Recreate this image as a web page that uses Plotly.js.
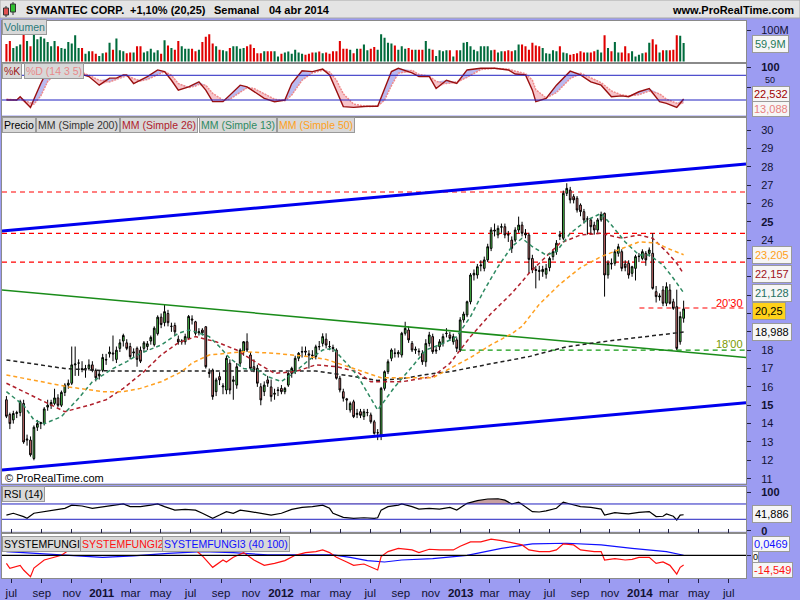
<!DOCTYPE html>
<html><head><meta charset="utf-8">
<script src="https://cdn.plot.ly/plotly-3.0.1.min.js"></script>
<style>html,body{margin:0;padding:0;background:#9c9cf2;}#chart{width:800px;height:600px;}</style>
</head><body><div id="chart"></div>
<script>
// ---------- DATA (weekly, first week 2010-06-21) ----------
const firstWeek = '2010-06-21';
const open = [
15.3,14.5,14.2,14.55,14.6,15.1,13.1,13.1,12.1,13.8,
14.0,14.0,14.9,15.0,15.1,15.4,15.0,15.7,16.1,16.2,
17.2,17.3,17.0,17.0,17.0,17.2,16.9,16.6,16.9,17.5,
17.8,17.85,17.5,18.1,18.5,18.4,18.2,17.85,18.1,18.0,
18.1,18.2,18.5,18.3,18.9,19.8,19.5,20.0,19.3,19.35,
18.6,18.45,18.46,18.65,19.7,19.55,18.95,19.1,19.28,16.8,
16.92,15.74,16.56,16.0,15.83,17.29,16.3,16.1,17.29,17.92,
18.46,17.74,17.1,17.01,16.01,15.74,16.38,16.0,15.6,15.8,
15.92,15.74,16.1,16.74,16.83,17.56,17.9,17.95,17.8,17.74,
17.65,18.2,18.37,18.6,18.2,18.15,18.01,16.47,15.74,15.35,
14.74,15.19,14.5,14.65,14.38,14.6,14.47,14.1,13.5,13.3,
15.92,16.83,17.56,17.85,17.8,17.74,18.92,19.1,18.37,18.0,
17.95,17.83,17.37,18.37,18.74,17.95,18.19,18.37,18.9,18.83,
18.46,18.56,18.01,19.65,19.92,20.64,22.1,22.1,22.6,22.46,
22.92,23.55,24.55,24.28,24.7,24.73,24.3,24.0,24.0,24.55,
24.82,24.37,24.28,23.0,22.4,22.35,22.28,22.14,22.5,23.1,
23.37,24.3,24.1,26.55,26.73,26.37,26.28,25.91,25.55,25.15,
25.1,24.82,24.55,25.1,25.46,22.1,22.74,22.74,23.28,23.37,
22.7,22.74,22.19,22.46,23.1,23.0,23.28,23.28,23.28,21.19,
20.9,21.28,20.56,21.28,20.64,20.37,18.46,19.74];
const high = [
15.5,14.6,14.7,14.7,15.3,15.3,13.4,13.3,13.9,14.2,
14.1,14.9,15.3,15.3,15.9,15.6,15.8,16.2,16.4,18.2,
18.2,17.5,17.4,17.2,17.5,17.4,17.0,16.9,17.8,17.8,
18.2,18.8,18.2,18.6,18.9,18.6,18.4,18.1,18.2,18.2,
18.5,18.5,18.8,19.3,19.9,20.0,20.5,20.2,19.5,19.5,
18.8,18.6,18.9,19.92,19.9,19.6,19.2,19.2,19.3,17.0,
17.0,16.5,16.8,16.2,17.7,17.5,16.6,17.3,18.1,18.5,
18.92,17.9,17.5,17.2,16.2,16.3,16.6,16.4,15.9,16.0,
16.1,16.0,16.8,17.1,17.7,17.9,18.2,18.2,18.0,18.0,
18.3,18.5,18.92,18.92,18.5,18.3,18.1,16.6,15.9,15.4,
15.2,15.3,14.8,14.8,14.8,14.8,14.6,14.2,13.7,16.0,
16.9,17.5,18.1,18.1,18.0,19.0,19.55,19.3,18.5,18.2,
18.1,18.0,18.6,19.0,18.9,18.2,18.6,18.9,19.2,19.0,
18.9,18.7,19.8,20.1,20.7,22.2,22.4,22.7,22.9,23.1,
23.8,24.7,24.9,24.8,24.9,24.9,24.5,24.2,24.7,25.28,
25.0,24.6,24.4,23.2,22.6,22.6,22.6,22.7,23.1,23.5,
24.0,24.5,26.7,27.1,26.9,26.5,26.4,26.0,25.7,25.3,
25.2,25.0,25.2,25.55,25.5,22.9,23.0,23.5,23.8,23.5,
22.9,22.9,22.6,23.2,23.3,23.5,23.4,23.6,24.37,21.5,
21.1,21.5,21.7,21.6,20.8,21.3,20.1,20.7];
const low = [
14.3,13.7,14.0,14.3,14.4,12.9,12.8,12.2,12.0,13.6,
13.7,13.9,14.7,14.8,15.0,14.9,14.9,15.5,15.9,16.1,
16.6,16.6,16.8,16.5,16.9,16.8,16.3,16.4,16.8,17.2,
17.6,17.4,17.3,17.9,18.2,18.0,17.5,17.6,17.1,17.3,
17.9,18.0,18.3,18.2,18.8,19.2,19.3,19.3,19.0,18.8,
18.3,18.3,18.3,18.6,19.4,18.8,18.8,18.8,17.0,16.5,
15.3,15.5,16.1,15.6,15.6,15.6,15.3,15.9,17.1,17.7,
17.9,16.9,16.8,16.0,15.0,15.5,16.0,15.2,15.3,15.5,
15.6,15.6,16.0,16.5,16.7,17.4,17.6,17.7,17.0,17.5,
17.5,18.0,18.2,18.1,18.0,17.9,16.4,15.7,15.2,14.74,
14.6,14.3,14.3,14.3,14.2,14.4,14.0,13.4,13.1,13.1,
15.8,16.7,17.4,17.6,17.6,17.6,18.8,18.4,17.9,17.8,
17.7,17.2,17.1,18.2,17.8,17.8,18.0,18.2,18.7,18.5,
18.3,17.9,17.9,19.5,19.8,20.5,21.8,21.9,22.3,22.3,
22.8,23.4,24.2,24.1,24.4,24.1,23.9,23.3,23.9,24.4,
24.2,24.1,22.2,22.2,21.37,21.8,22.0,21.9,22.3,22.9,
23.2,24.0,24.0,26.4,26.0,26.0,25.5,25.3,24.9,24.3,
24.3,24.3,24.4,25.0,20.92,21.9,22.4,22.6,23.1,22.3,
22.3,21.9,22.0,21.8,22.8,22.9,22.6,23.1,21.3,20.6,
20.7,20.4,20.4,20.5,20.2,18.0,18.3,19.5];
const close = [
14.4,14.0,14.55,14.6,15.2,13.0,13.15,12.3,13.8,14.0,
14.05,14.8,15.0,15.15,15.4,15.0,15.7,16.1,16.2,17.2,
17.25,17.3,16.95,17.0,17.2,16.9,16.5,16.7,17.6,17.47,
17.9,17.8,18.0,18.4,18.8,18.1,17.65,17.9,17.5,17.4,
18.4,18.35,18.7,19.2,19.8,19.4,20.1,19.5,19.3,19.0,
18.45,18.5,18.74,19.84,19.65,18.92,19.0,18.95,17.1,16.74,
15.47,16.38,16.38,16.05,17.56,15.83,16.38,17.1,18.01,18.46,
18.01,17.01,16.92,16.2,15.29,16.1,16.2,15.47,15.65,15.83,
15.74,15.92,16.74,17.01,17.56,17.83,17.92,17.9,17.74,17.7,
18.19,18.19,18.74,18.28,18.19,18.1,16.47,15.83,15.38,15.29,
15.1,14.38,14.56,14.45,14.65,14.6,14.1,13.47,13.5,15.92,
16.83,17.37,18.01,17.83,17.88,18.92,19.19,18.56,18.01,18.05,
17.92,17.37,18.37,18.83,17.92,18.0,18.46,18.74,18.92,18.65,
18.74,18.1,19.65,19.97,20.64,22.1,22.19,22.55,22.64,22.92,
23.64,24.55,24.5,24.64,24.73,24.28,24.28,23.55,24.55,24.82,
24.37,24.28,22.95,22.37,22.35,22.3,22.4,22.46,23.0,23.37,
23.83,24.2,26.55,26.82,26.19,26.19,25.64,25.55,25.1,25.15,
24.73,24.55,25.1,25.4,22.1,22.74,22.7,23.37,23.64,22.46,
22.5,22.1,22.55,23.1,23.12,23.37,22.92,23.46,21.37,20.92,
20.95,20.56,21.46,20.56,20.28,18.1,19.83,20.25];
// volume in millions
const volume = [
57,66,44,49,55,88,66,49,88,72,
80,74,63,49,66,49,44,41,63,58,
85,44,44,25,33,33,25,18,27,29,
61,38,74,36,33,27,29,29,49,49,
29,33,41,29,36,25,69,52,44,38,
66,49,41,41,41,33,38,63,80,88,
58,49,38,36,33,44,49,49,41,44,
49,55,44,27,27,33,33,33,33,16,
25,29,32,25,38,29,25,22,25,29,
29,32,27,29,25,33,33,66,41,41,
38,27,41,41,55,36,41,47,38,88,
77,61,58,52,38,
49,41,44,38,38,38,38,66,41,38,
18,36,33,36,36,16,36,36,61,63,
49,38,33,49,49,49,36,38,29,33,
33,36,33,36,55,55,49,38,61,52,
49,44,27,25,36,33,49,29,27,22,
24,27,33,29,29,29,33,38,29,85,
44,33,63,29,29,49,27,33,16,22,
27,29,61,72,55,29,36,36,36,38,
85,83,59.9];
// moving averages, read at sample weeks
const ma200Wk = [0,17,30,60,90,100,108,115,123,129,140,144,152,163,175,187,195,197];
const ma200 = [17.47,17.0,16.87,16.87,16.87,16.6,16.35,16.45,16.7,16.83,17.2,17.37,17.65,18.19,18.5,18.77,18.92,18.988];
const ma50Wk = [0,7,18,28,34,39,45,51,54,59,69,78,88,93,102,109,124,130,135,141,147,150,152,155,161,167,173,179,184,189,193,197];
const ma50 = [16.65,16.4,16.0,15.74,15.74,15.92,16.28,16.83,17.3,17.74,17.92,17.83,17.65,17.5,16.92,16.5,16.5,17.1,17.6,18.3,18.9,19.3,19.8,20.5,21.6,22.5,23.1,23.55,23.9,23.85,23.5,23.205];
const ma26Wk = [0,12,17,24,29,34,40,45,50,55,61,67,73,78,84,90,96,102,106,115,124,129,135,141,147,150,152,155,161,167,173,179,184,188,192,195,197];
const ma26 = [16.2,15.1,14.65,15.0,15.3,15.92,16.83,17.74,18.4,18.74,18.46,18.01,17.29,16.74,16.83,17.2,17.1,16.83,16.28,16.28,16.56,17.28,18.74,20.0,21.1,21.74,22.19,22.74,23.83,24.28,24.37,24.1,24.28,24.1,23.37,22.74,22.157];
const ma13Wk = [0,5,8,11,16,21,25,31,35,39,45,50,53,55,59,62,65,69,73,76,80,84,88,92,95,98,102,108,113,118,122,127,131,135,139,143,147,150,153,157,160,164,169,173,176,180,184,187,191,194,197];
const ma13 = [15.74,15.0,14.2,13.99,14.38,15.38,16.28,17.0,17.38,17.83,18.28,18.92,19.1,19.0,18.74,18.19,17.56,17.0,16.92,16.56,16.29,16.83,17.47,18.01,18.1,17.47,16.65,14.74,16.01,17.1,18.01,18.37,18.74,19.83,21.28,22.55,23.64,24.1,23.64,23.19,23.37,24.37,25.1,25.46,24.82,23.9,23.19,23.19,22.64,21.92,21.128];
// trend lines and levels
const trendDates = ['2010-06-12','2014-08-05'];
const upperChannel = [24.5, 28.15];
const lowerChannel = [11.47, 15.14];
const greenTrend = [21.28, 17.6];
const redLevels = [26.62, 24.37, 22.8];
const level2030 = 20.30, level2030Start = '2013-12-31';
const level1800 = 18.00, level1800Start = '2013-01-01';
// stochastic %K %D (14 3 5)
const stochWk = [0,3,4,7,8,10,12,15,18,21,24,27,30,32,34,35,37,39,41,44,46,48,50,53,55,56,58,60,63,65,68,70,72,75,78,81,83,86,89,92,94,96,98,101,105,108,110,112,114,118,120,123,125,128,131,134,138,142,146,148,151,153,154,157,160,164,167,170,173,176,179,181,184,187,190,192,195,197];
const stochK = [20,20,28,2,22,60,93,97,95,85,77,56,73,73,81,81,60,68,77,93,89,68,44,52,60,64,44,16,16,32,56,52,40,24,16,20,60,91,89,95,81,44,4,2,5,5,48,89,97,86,77,77,48,68,60,93,97,97,93,83,81,44,16,24,56,90,81,64,56,28,30,28,40,48,16,12,2,22.532];
const stochD = [22,20,22,12,10,30,65,90,96,90,80,68,64,70,76,79,72,66,70,82,89,80,60,50,54,58,56,36,20,22,40,50,48,36,22,18,32,68,86,92,88,68,35,10,4,5,20,55,85,92,82,78,65,60,64,75,94,97,95,90,84,68,45,25,38,72,85,74,62,42,32,30,33,42,35,22,12,13.088];
// RSI (14)
const rsiWk = [0,2,5,6,8,11,14,17,19,22,25,28,31,34,36,39,42,44,46,49,52,55,57,60,62,64,66,68,71,74,77,80,83,86,89,92,94,95,98,101,104,107,108,109,111,114,115,118,120,123,126,129,131,134,137,140,143,145,147,149,151,153,155,157,160,162,164,167,170,173,174,177,179,181,184,187,189,191,192,194,195,196,197];
const rsi = [41,45.7,37,32.6,45.7,50,54,58.7,67,64.7,58.7,62,67,70,63,63,67,70,63,54,56,54,45.7,32.6,41,50,45.7,54,50,45.7,41,45.7,56,61,63,67,58.7,45.7,35,32.6,34,32.6,34,54,63,67,70,63,56.5,58.7,56.5,61,54,71.7,78.6,83,83.6,80,70,75,63,50,49,52,58.7,75,70,63,61,56.5,41,47.5,45.7,44,48,50,37,38,44,38,28.3,41,41.886];
// SYSTEMFUNGI2 (red) and SYSTEMFUNGI3 (blue)
const sf2Wk = [0,1,4,5,7,8,11,14,16,18,24,28,32,36,40,44,48,52,55,57,60,63,64,66,69,72,75,78,81,84,87,90,92,94,96,99,101,104,107,108,109,111,114,118,120,123,126,130,132,135,138,141,144,148,150,152,155,158,160,162,165,167,171,173,174,177,180,182,184,187,189,191,193,195,196,197];
const sf2 = [-12,-19.4,-15,-22,-32,-19,-7,-3,0,7,13,15,18,16,17,20,15,12,8,-1,-18,-7,-10,-3,4,-7,-15,-12,-8,0,4,5.5,8,4,-3,-10,-15,-13,-19,-22,-2,5.5,10.4,8,4,9,8,8,13.5,20,20,24,22,17,15.5,8,5.5,5.5,8,17,15.5,8,5.5,5.5,-7,-5,-7,-6,-3,-3,-12,-10,-15,-28,-18,-14.549];
const sf3Wk = [0,8,18,28,37,47,57,66,76,86,95,100,105,110,115,124,134,144,153,163,173,182,192,197];
const sf3 = [5.4,3,-1,-3,-1,3,5.5,4,0.5,0.5,0.5,-3,-8,-10,-7,-5,0,10.4,17,18,15.5,10.4,5.5,0.0469];
// x-axis ticks
const monthTicks = ['2010-07-01','2010-09-01','2010-11-01','2011-01-01','2011-03-01','2011-05-01','2011-07-01','2011-09-01','2011-11-01','2012-01-01','2012-03-01','2012-05-01','2012-07-01','2012-09-01','2012-11-01','2013-01-01','2013-03-01','2013-05-01','2013-07-01','2013-09-01','2013-11-01','2014-01-01','2014-03-01','2014-05-01','2014-07-01'];
const monthLabels = ['jul','sep','nov','<b>2011</b>','mar','may','jul','sep','nov','<b>2012</b>','mar','may','jul','sep','nov','<b>2013</b>','mar','may','jul','sep','nov','<b>2014</b>','mar','may','jul'];
const xRange = ['2010-06-12','2014-08-05'];

// ---------- BUILD ----------
const t0 = Date.parse(firstWeek + 'T00:00:00Z');
const wk = i => new Date(t0 + i*7*86400000).toISOString().slice(0,10);
const dates = close.map((_, i) => wk(i));
const X = arr => arr.map(wk);
const PURPLE = '#9c9cf2';
const FONT = 'Liberation Sans, Arial, sans-serif';

const traces = [];
// volume
traces.push({type:'bar', x:dates, y:volume, yaxis:'y', xaxis:'x',
  marker:{color: close.map((c,i)=> c>=open[i] ? '#006b3c' : '#e00000'), line:{width:0}}, hoverinfo:'skip'});
// stochastic fills
const kx = X(stochWk);
const lowFill = stochK.map((k,i)=>Math.min(k, stochD[i]));
const highFill = stochK.map((k,i)=>Math.max(k, stochD[i]));
traces.push({type:'scatter', mode:'lines', x:kx, y:stochD, yaxis:'y2', line:{width:0}, hoverinfo:'skip'});
traces.push({type:'scatter', mode:'lines', x:kx, y:lowFill, yaxis:'y2', line:{width:0}, fill:'tonexty', fillcolor:'rgba(240,150,160,0.55)', hoverinfo:'skip'});
traces.push({type:'scatter', mode:'lines', x:kx, y:stochD, yaxis:'y2', line:{width:0}, hoverinfo:'skip'});
traces.push({type:'scatter', mode:'lines', x:kx, y:highFill, yaxis:'y2', line:{width:0}, fill:'tonexty', fillcolor:'rgba(140,140,230,0.6)', hoverinfo:'skip'});
traces.push({type:'scatter', mode:'lines', x:kx, y:stochD, yaxis:'y2', line:{color:'#f08a8a', width:1.5, dash:'2px,1px'}, hoverinfo:'skip'});
traces.push({type:'scatter', mode:'lines', x:kx, y:stochK, yaxis:'y2', line:{color:'#9a1010', width:1.4}, hoverinfo:'skip'});
// price: trend lines
traces.push({type:'scatter', mode:'lines', x:trendDates, y:upperChannel, yaxis:'y3', line:{color:'#0000ee', width:3}, hoverinfo:'skip'});
traces.push({type:'scatter', mode:'lines', x:trendDates, y:lowerChannel, yaxis:'y3', line:{color:'#0000ee', width:3}, hoverinfo:'skip'});
traces.push({type:'scatter', mode:'lines', x:trendDates, y:greenTrend, yaxis:'y3', line:{color:'#1a8c1a', width:1.5}, hoverinfo:'skip'});
// moving averages
const maStyle = [[ma200Wk, ma200, '#222222'], [ma26Wk, ma26, '#b0202c'], [ma13Wk, ma13, '#2e8a62'], [ma50Wk, ma50, '#ffa020']];
maStyle.forEach(([w, v, c]) => traces.push({type:'scatter', mode:'lines', x:X(w), y:v, yaxis:'y3',
  line:{color:c, width:1.5, dash:'4px,3px'}, hoverinfo:'skip'}));
// candles
traces.push({type:'candlestick', x:dates, open:open, high:high, low:low, close:close, yaxis:'y3', xaxis:'x',
  increasing:{line:{color:'#000000', width:1}, fillcolor:'#55e055'},
  decreasing:{line:{color:'#000000', width:1}, fillcolor:'#f08080'},
  whiskerwidth:0, hoverinfo:'skip'});
// RSI
const rx = X(rsiWk);
traces.push({type:'scatter', mode:'lines', x:rx, y:rsi.map(()=>70), yaxis:'y4', line:{width:0}, hoverinfo:'skip'});
traces.push({type:'scatter', mode:'lines', x:rx, y:rsi.map(v=>Math.max(v,70)), yaxis:'y4', line:{width:0}, fill:'tonexty', fillcolor:'#c8a0a0', hoverinfo:'skip'});
traces.push({type:'scatter', mode:'lines', x:rx, y:rsi, yaxis:'y4', line:{color:'#000000', width:1.2}, hoverinfo:'skip'});
// SYSTEMFUNGI
traces.push({type:'scatter', mode:'lines', x:X(sf3Wk), y:sf3, yaxis:'y5', line:{color:'#1010ff', width:1.2}, hoverinfo:'skip'});
traces.push({type:'scatter', mode:'lines', x:X(sf2Wk), y:sf2, yaxis:'y5', line:{color:'#ff1010', width:1.2}, hoverinfo:'skip'});

// ---------- LAYOUT ----------
const py = p => 1 - p/600;           // pixel y -> paper
const pxp = p => p/800;              // pixel x -> paper
const yax = (top, bottom, range, extra) => Object.assign({
  domain:[py(bottom), py(top)], range:range, anchor:'x', side:'right',
  showgrid:false, zeroline:false, showline:true, mirror:true, linecolor:'#8a8a8a', linewidth:1,
  ticks:'outside', ticklen:4, tickcolor:'#222244', ticklabelstandoff:8,
  tickfont:{family:FONT, size:11, color:'#111133'}, fixedrange:true}, extra||{});

const priceTicks = [], priceText = [];
for (let v = 11; v <= 30; v++) { priceTicks.push(v); priceText.push(v>=19 && v<=23 ? '' : (v===15||v===25 ? '<b>'+v+'</b>' : String(v))); }

const shapes = [];
// header bar
shapes.push({type:'rect', xref:'paper', yref:'paper', x0:0, x1:1, y0:py(18), y1:1, fillcolor:'#e4e4e4', line:{color:'#a8a8a8', width:1}});
// header icon candles
shapes.push({type:'line', xref:'paper', yref:'paper', x0:pxp(6), x1:pxp(6), y0:py(17), y1:py(6), line:{color:'#333', width:1}});
shapes.push({type:'rect', xref:'paper', yref:'paper', x0:pxp(3.5), x1:pxp(8.5), y0:py(15), y1:py(8), fillcolor:'#e05050', line:{color:'#333', width:1}});
shapes.push({type:'line', xref:'paper', yref:'paper', x0:pxp(13), x1:pxp(13), y0:py(15), y1:py(2), line:{color:'#333', width:1}});
shapes.push({type:'rect', xref:'paper', yref:'paper', x0:pxp(10.5), x1:pxp(15.5), y0:py(12), y1:py(4), fillcolor:'#30c030', line:{color:'#333', width:1}});
// price horizontal levels
redLevels.forEach(l => shapes.push({type:'line', xref:'x domain', yref:'y3', x0:0, x1:1, y0:l, y1:l, layer:'below', line:{color:'#ff0000', width:1.2, dash:'5px,4px'}}));
shapes.push({type:'line', xref:'x', yref:'y3', x0:level2030Start, x1:xRange[1], y0:level2030, y1:level2030, layer:'below', line:{color:'#ff0000', width:1.2, dash:'5px,4px'}});
shapes.push({type:'line', xref:'x', yref:'y3', x0:level1800Start, x1:xRange[1], y0:level1800, y1:level1800, layer:'below', line:{color:'#119911', width:1.2, dash:'5px,4px'}});
// indicator reference lines
[80,20].forEach(l => shapes.push({type:'line', xref:'x domain', yref:'y2', x0:0, x1:1, y0:l, y1:l, line:{color:'#2020c0', width:1}}));
[70,30].forEach(l => shapes.push({type:'line', xref:'x domain', yref:'y4', x0:0, x1:1, y0:l, y1:l, line:{color:'#2020c0', width:1}}));
shapes.push({type:'line', xref:'x domain', yref:'y5', x0:0, x1:1, y0:0, y1:0, line:{color:'#000000', width:1.2}});

const ann = [];
const A = (x, y, text, o) => ann.push(Object.assign({xref:'paper', yref:'paper', x:pxp(x), y:py(y), text:text,
  showarrow:false, xanchor:'left', yanchor:'middle', font:{family:FONT, size:11, color:'#000'}}, o||{}));
// header
const hf = {family:FONT, size:11, color:'#000'};
A(24, 10, '<b>SYMANTEC CORP.</b>', {font:hf});
A(128, 10, '<b>+1,10% (20,25)</b>', {font:hf});
A(212, 10, '<b>Semanal</b>', {font:hf});
A(267, 10, '<b>04 abr 2014</b>', {font:hf});
A(796, 10, '<b>www.ProRealTime.com</b>', {font:hf, xanchor:'right'});
// panel labels
const tag = (x, y, text, color) => A(x, y, text, {bgcolor:'#d8d8d8', bordercolor:'#9a9a9a', borderwidth:1, borderpad:1,
  font:{family:FONT, size:10.5, color:color}});
tag(2, 27, 'Volumen', '#2a7a7a');
tag(2, 71, '%K', '#a01818');
tag(24, 71, '%D (14 3 5)', '#e88a8a');
tag(2, 124.5, 'Precio', '#000000');
tag(36, 124.5, 'MM (Simple 200)', '#333333');
tag(120, 124.5, 'MM (Simple 26)', '#b0202c');
tag(199, 124.5, 'MM (Simple 13)', '#2e8a62');
tag(277, 124.5, 'MM (Simple 50)', '#ffa020');
tag(2, 493.5, 'RSI (14)', '#000000');
tag(2, 544, 'SYSTEMFUNGI', '#000000');
tag(80, 544, 'SYSTEMFUNGI2', '#ff1010');
tag(162, 544, 'SYSTEMFUNGI3 (40 100)', '#1010ff');
// value boxes on the right axis
const box = (y, text, color, bg, pad, size) => A(752, y, text, {bgcolor:bg||'#f6f6f6', bordercolor:'#9a9a9a', borderwidth:1,
  borderpad:(pad===undefined?2:pad), font:{family:FONT, size:size||11, color:color}});
box(43.5, '59,9M', '#1f7a5a');
box(94, '22,532', '#a00000', null, 1);
box(108.5, '13,088', '#e88080', null, 1);
box(255, '23,205', '#ffa020');
box(274, '22,157', '#a01020');
box(292.5, '21,128', '#1f7060');
box(311, '20,25', '#000000', '#ffd21a');
box(332, '18,988', '#000000');
box(514, '41,886', '#000000');
box(543.5, '0,0469', '#1010ff', null, 1);
box(569.5, '-14,549', '#ff1010', null, 1);
box(556.5, '0', '#000000', null, 0, 9);
// partially hidden stochastic mid label
A(763, 80, '50', {font:{family:FONT, size:9, color:'#111133'}});
// level labels
A(745, 302.5, "20'30", {xanchor:'right', font:{family:FONT, size:11, color:'#ff0000'}});
A(745, 343.5, "18'00", {xanchor:'right', font:{family:FONT, size:11, color:'#7a9a00'}});
A(3, 478, '© ProRealTime.com', {font:{family:FONT, size:11, color:'#000'}});

const layout = {
  width:800, height:600, margin:{l:0, r:0, t:0, b:0},
  paper_bgcolor:PURPLE, plot_bgcolor:'#ffffff', showlegend:false,
  bargap:0.4, boxgap:0.3, dragmode:false,
  xaxis:{type:'date', domain:[0.0025, 746/800], range:xRange, anchor:'y5',
    tickvals:monthTicks, ticktext:monthLabels, ticks:'outside', ticklen:4, tickcolor:'#222244',
    tickfont:{family:FONT, size:11.5, color:'#111133'}, showgrid:false, zeroline:false,
    showline:true, linecolor:'#8a8a8a', mirror:'all', rangeslider:{visible:false}, fixedrange:true},
  yaxis: yax(20.5, 62, [-1.6, 132.6], {tickvals:[100], ticktext:['100M']}),
  yaxis2: yax(64, 115.5, [-17.6, 107.4], {tickvals:[100,50], ticktext:['<b>100</b>','']}),
  yaxis3: yax(118, 483.5, [10.736, 30.654], {tickvals:priceTicks, ticktext:priceText}),
  yaxis4: yax(486.7, 531.7, [-2.4, 115.1], {tickvals:[100,0], ticktext:['<b>100</b>','<b>0</b>']}),
  yaxis5: yax(534, 578, [-33.9, 31.8], {tickvals:[0], ticktext:['']}),
  shapes:shapes, annotations:ann
};
Plotly.newPlot('chart', traces, layout, {staticPlot:true, displayModeBar:false});
</script></body></html>
